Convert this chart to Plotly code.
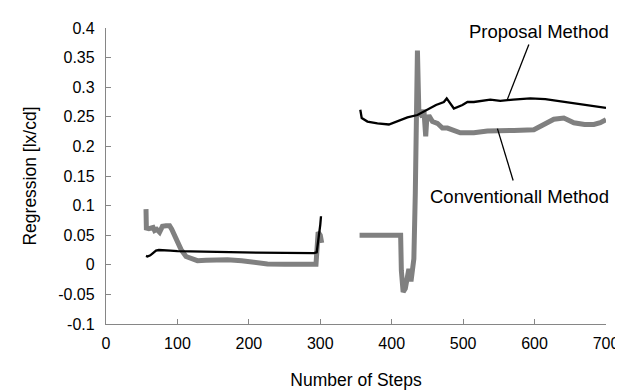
import plotly.graph_objects as go

# ---- data ----
prop_x = [56, 58, 62, 66, 70, 74, 80, 90, 100, 130, 170, 210, 250, 291, 295, 298, 300, 301,
          None,
          356, 358, 366, 380, 396, 408, 422, 436, 450, 462, 473, 477, 487, 499, 506, 515, 538,
          552, 570, 594, 615, 632, 655, 678, 690, 700]
prop_y = [0.015, 0.014, 0.016, 0.020, 0.024, 0.025, 0.025, 0.024, 0.023, 0.022, 0.021, 0.0205, 0.020, 0.0196, 0.021, 0.045, 0.068, 0.082,
          None,
          0.262, 0.248, 0.242, 0.239, 0.237, 0.243, 0.249, 0.253, 0.262, 0.270, 0.275, 0.281, 0.264, 0.270, 0.275, 0.275, 0.279,
          0.277, 0.279, 0.281, 0.280, 0.277, 0.273, 0.269, 0.266, 0.265]

conv_x = [56, 56.5, 60, 63, 66, 68, 71, 75, 79, 84, 89, 92, 96, 100, 105, 112, 120, 128, 140, 170, 190, 207, 226, 250, 270, 287, 294, 297, 300, 302,
          None,
          355, 412.5, 413.5, 416, 419, 421, 424, 427, 431, 433, 435, 436, 438, 440, 443, 445, 447, 447.6, 449, 452, 457, 464, 471, 478, 496, 515, 534, 548,
          571, 599, 610, 627, 641, 655, 670, 683, 692, 700]
conv_y = [0.094, 0.062, 0.061, 0.061, 0.063, 0.058, 0.060, 0.055, 0.065, 0.066, 0.066, 0.060, 0.048, 0.037, 0.026, 0.014, 0.010, 0.007, 0.0075, 0.0085, 0.007, 0.005, 0.0015, 0.001, 0.0008, 0.0005, 0.001, 0.055, 0.050, 0.037,
          None,
          0.050, 0.050, -0.010, -0.046, -0.040, -0.020, -0.007, -0.028, 0.010, 0.120, 0.300, 0.362, 0.259, 0.255, 0.250, 0.262, 0.240, 0.217, 0.245, 0.252, 0.242, 0.239, 0.231, 0.231, 0.223, 0.223, 0.226, 0.227,
          0.227, 0.228, 0.236, 0.246, 0.248, 0.240, 0.237, 0.237, 0.240, 0.245]

x_tick_vals = [0, 100, 200, 300, 400, 500, 600, 700]
x_tick_text = ["0", "100", "200", "300", "400", "500", "600", "700"]
y_tick_vals = [-0.1, -0.05, 0, 0.05, 0.1, 0.15, 0.2, 0.25, 0.3, 0.35, 0.4]
y_tick_text = ["-0.1", "-0.05", "0", "0.05", "0.1", "0.15", "0.2", "0.25", "0.3", "0.35", "0.4"]

FONT = "Liberation Sans, Arial, Helvetica, sans-serif"
AXIS_GRAY = "#868686"

fig = go.Figure()
fig.add_trace(go.Scatter(x=conv_x, y=conv_y, mode="lines", name="Conventionall Method",
                         line=dict(color="#808080", width=5), connectgaps=False))
fig.add_trace(go.Scatter(x=prop_x, y=prop_y, mode="lines", name="Proposal Method",
                         line=dict(color="#000000", width=2.3), connectgaps=False))

# annotation labels with leader lines
fig.add_annotation(x=606, y=0.3945, xref="x", yref="y", text="Proposal Method",
                   showarrow=False, font=dict(size=18.5, color="black", family=FONT))
fig.add_shape(type="line", xref="x", yref="y", x0=592, y0=0.372, x1=561.8, y1=0.279,
              line=dict(color="black", width=1.3))
fig.add_annotation(x=579.5, y=0.1148, xref="x", yref="y", text="Conventionall Method",
                   showarrow=False, font=dict(size=18.5, color="black", family=FONT))
fig.add_shape(type="line", xref="x", yref="y", x0=548, y0=0.230, x1=570, y1=0.1425,
              line=dict(color="black", width=1.3))

fig.update_layout(
    width=623, height=392,
    margin=dict(l=98, r=24, t=15, b=76),
    paper_bgcolor="white", plot_bgcolor="white",
    showlegend=False,
    font=dict(family=FONT, size=16, color="black"),
    xaxis=dict(range=[0, 700], tickvals=x_tick_vals, ticktext=x_tick_text,
               ticks="inside", ticklen=5, tickcolor=AXIS_GRAY, tickwidth=1,
               showline=True, linecolor=AXIS_GRAY, linewidth=1.3,
               showgrid=False, zeroline=False, ticklabelstandoff=5,
               tickfont=dict(size=16),
               title=dict(text="Number of Steps", standoff=22, font=dict(size=17.5))),
    yaxis=dict(range=[-0.1, 0.4], tickvals=y_tick_vals, ticktext=y_tick_text,
               ticks="inside", ticklen=5, tickcolor=AXIS_GRAY, tickwidth=1,
               showline=True, linecolor=AXIS_GRAY, linewidth=1.3,
               showgrid=False, zeroline=False, ticklabelstandoff=7,
               tickfont=dict(size=16),
               title=dict(text="Regression [lx/cd]", standoff=17, font=dict(size=17.5))),
)

fig.write_html("out.html")
